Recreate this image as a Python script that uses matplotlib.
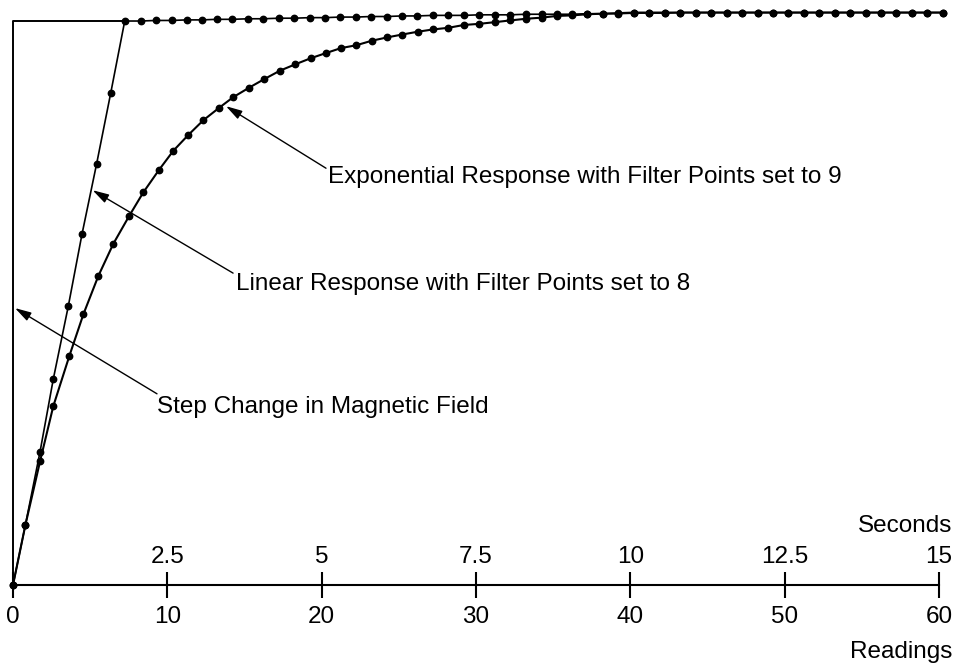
import matplotlib
matplotlib.use('Agg')
from matplotlib import pyplot as plt

plt.rcParams['font.family'] = ['Liberation Sans', 'DejaVu Sans']

# step change in the field (readings, normalised field)
step_x = [0, 0, 7.24]
step_y = [0, 1.0, 1.0]

# linear response, filter points = 8
lin_x = [0, 0.80, 1.75, 2.61, 3.58, 4.47, 5.42, 6.33, 7.24,
         8.27, 9.27, 10.28, 11.25, 12.23, 13.2, 14.21, 15.25, 16.22, 17.24,
         18.23, 19.24, 20.22, 21.19, 22.22, 23.2, 24.21, 25.19, 26.2, 27.2,
         28.2, 29.22, 30.21, 31.23, 32.2, 33.24, 34.26, 35.23, 36.24, 37.21,
         38.21, 39.22, 40.24, 41.24, 42.24, 43.24, 44.24, 45.24, 46.24, 47.24,
         48.24, 49.24, 50.24, 51.24, 52.24, 53.24, 54.24, 55.24, 56.24, 57.24,
         58.24, 59.24, 60.24]
lin_y = [0, 0.106, 0.236, 0.365, 0.494, 0.622, 0.747, 0.872, 1.0,
         1.000, 1.001, 1.001, 1.002, 1.002, 1.003, 1.003, 1.004, 1.004, 1.005,
         1.005, 1.006, 1.006, 1.007, 1.007, 1.008, 1.008, 1.009, 1.009, 1.010,
         1.010, 1.010, 1.011, 1.011, 1.011, 1.012, 1.012, 1.012, 1.012, 1.013,
         1.013, 1.013, 1.014, 1.014, 1.014, 1.015, 1.015, 1.015, 1.015, 1.015,
         1.015, 1.015, 1.015, 1.015, 1.015, 1.015, 1.015, 1.015, 1.015, 1.015,
         1.015, 1.015, 1.015]

# exponential response, filter points = 9
exp_x = [0, 0.80, 1.75, 2.61, 3.65, 4.56, 5.53, 6.50, 7.52, 8.44, 9.46,
         10.39, 11.36, 12.33, 13.35, 14.27, 15.31, 16.28, 17.30, 18.27, 19.29,
         20.26, 21.25, 22.24, 23.24, 24.25, 25.21, 26.22, 27.20, 28.21, 29.22,
         30.21, 31.23, 32.20, 33.24, 34.26, 35.23, 36.24, 37.21, 38.21, 39.22,
         40.24, 41.24, 42.24, 43.24, 44.24, 45.24, 46.24, 47.24, 48.24, 49.24,
         50.24, 51.24, 52.24, 53.24, 54.24, 55.24, 56.24, 57.24, 58.24, 59.24,
         60.24]
exp_y = [0, 0.106, 0.219, 0.317, 0.406, 0.480, 0.548, 0.605, 0.654, 0.696, 0.736,
         0.770, 0.798, 0.824, 0.846, 0.865, 0.882, 0.897, 0.912, 0.923, 0.934,
         0.943, 0.952, 0.957, 0.965, 0.971, 0.976, 0.981, 0.985, 0.988, 0.993,
         0.995, 0.998, 1.001, 1.004, 1.006, 1.009, 1.010, 1.012, 1.013, 1.014,
         1.015, 1.015, 1.015, 1.015, 1.015, 1.015, 1.015, 1.015, 1.015, 1.015,
         1.015, 1.015, 1.015, 1.015, 1.015, 1.015, 1.015, 1.015, 1.015, 1.015,
         1.015]

reading_ticks = [0, 10, 20, 30, 40, 50, 60]
second_ticks = [2.5, 5, 7.5, 10, 12.5, 15]
second_labels = ['2.5', '5', '7.5', '10', '12.5', '15']

font_size = 17.5

fig = plt.figure(figsize=(9.56, 6.66), dpi=100)
ax = fig.add_axes([13 / 956, 81 / 666, 926 / 956, 580.9 / 666])
ax.set_xlim(0, 60)
ax.set_ylim(0, 1.03)

ax.plot(step_x, step_y, color='black', lw=1.4, clip_on=False)
ax.plot(lin_x, lin_y, color='black', lw=1.2, marker='o', ms=4.6, clip_on=False)
ax.plot(exp_x, exp_y, color='black', lw=1.5, marker='o', ms=4.6, clip_on=False)

for s in ['top', 'left', 'right']:
    ax.spines[s].set_visible(False)
ax.spines['bottom'].set_linewidth(1.5)
ax.set_yticks([])
ax.set_xticks(reading_ticks)
ax.tick_params(axis='x', direction='inout', length=19.4, width=1.5,
               pad=5.4, labelsize=font_size)

sec = ax.secondary_xaxis(0.0, functions=(lambda r: r / 4, lambda s: s * 4))
sec.set_alignment('top')
sec.set_xticks(second_ticks, labels=second_labels)
sec.tick_params(axis='x', length=0, pad=12, labelsize=font_size)
for s in sec.spines.values():
    s.set_visible(False)

fig.text(952 / 956, 1 - 532 / 666, 'Seconds', ha='right', va='baseline',
         fontsize=font_size)
fig.text(952 / 956, 1 - 658 / 666, 'Readings', ha='right', va='baseline',
         fontsize=font_size)

arrow = dict(arrowstyle='-|>,head_length=0.7,head_width=0.2', color='black',
             lw=1.0, shrinkA=0, shrinkB=0, mutation_scale=14)

notes = [
    ('Exponential Response with Filter Points set to 9', (13.80, 0.849), (20.28, 0.739), (20.41, 0.723)),
    ('Linear Response with Filter Points set to 8', (5.16, 0.700), (14.26, 0.553), (14.45, 0.534)),
    ('Step Change in Magnetic Field', (0.13, 0.491), (9.33, 0.339), (9.33, 0.316)),
]
for label, tip, tail, pos in notes:
    ax.annotate('', xy=tip, xytext=tail, arrowprops=arrow)
    ax.text(pos[0], pos[1], label, ha='left', va='center', fontsize=font_size)

fig.savefig('out.png', dpi=100)
